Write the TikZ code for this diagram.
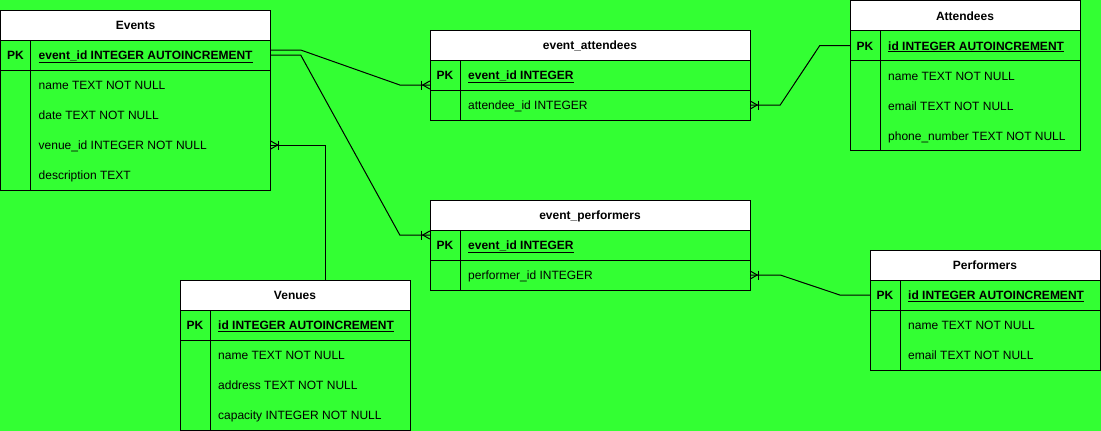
\documentclass[tikz,border=0pt]{standalone}
\usepackage{fontspec}
\setmainfont{Liberation Sans}
\usetikzlibrary{calc}
\definecolor{bg}{HTML}{33FF33}
\tikzset{
  ln/.style={draw=black, line width=1pt},
  conn/.style={draw=black, line width=1pt},
  hdr/.style={inner sep=0pt, anchor=base, font=\fontsize{12}{14}\selectfont\bfseries},
  pklab/.style={inner sep=0pt, anchor=base, font=\fontsize{12}{14}\selectfont\bfseries},
  pktxt/.style={inner sep=0pt, anchor=base west, font=\fontsize{12}{14}\selectfont\bfseries},
  fld/.style={inner sep=0pt, anchor=base west, font=\fontsize{12}{14}\selectfont},
  rowbox/.style={inner sep=0pt, minimum height=30pt}
}
% #1 id, #2 x, #3 y(top), #4 width, #5 title, #6 pk text, #7 number of fields, #8 fields
\newcommand{\ertable}[8]{%
  \fill[white] (#2,#3) rectangle ++(#4,30);
  \draw[ln] (#2,#3) rectangle ++(#4,60+30*#7);
  \draw[ln] (#2,#3+30) -- ++(#4,0);
  \draw[ln] (#2,#3+60) -- ++(#4,0);
  \draw[ln] (#2+30,#3+30) -- ++(0,30+30*#7);
  \coordinate (#1-top) at (#2+#4/2,#3);
  \node[hdr] (#1) at (#2+#4/2,#3+19.5) {#5};
  \node[rowbox, minimum width=#4pt] (#1-r0) at (#2+#4/2,#3+45) {};
  \node[pklab] (#1-pk) at (#2+15,#3+49.5) {PK};
  \node[pktxt] (#1-key) at (#2+38,#3+49.5) {\underline{#6}};
  \foreach \f [count=\i] in {#8} {
    \node[rowbox, minimum width=#4pt] (#1-r\i) at (#2+#4/2,#3+45+30*\i) {};
    \node[fld] (#1-t\i) at (#2+38,#3+49.5+30*\i) {\f};
  }
}
% #1 coordinate, #2 direction (+1 line leaves to the right, -1 to the left)
\newcommand{\crowfoot}[2]{%
  \draw[conn] ($(#1)+(0,-4)$) -- ($(#1)+(#2*7,0)$) -- ($(#1)+(0,4)$);
  \draw[conn] ($(#1)+(#2*8,-4.5)$) -- ($(#1)+(#2*8,4.5)$);
}
\begin{document}
\begin{tikzpicture}[x=1pt,y=-1pt]
  \useasboundingbox (0,0) rectangle (1101,431);
  \fill[bg] (0,0) rectangle (1101,431);

  \ertable{ev}{0.5}{10}{270}{Events}{event\_id INTEGER AUTOINCREMENT}{4}{name TEXT NOT NULL,date TEXT NOT NULL,venue\_id INTEGER NOT NULL,description TEXT}
  \ertable{ea}{430}{30}{320}{event\_attendees}{event\_id INTEGER}{1}{attendee\_id INTEGER}
  \ertable{at}{850}{0.5}{230}{Attendees}{id INTEGER AUTOINCREMENT}{3}{name TEXT NOT NULL,email TEXT NOT NULL,phone\_number TEXT NOT NULL}
  \ertable{ep}{430}{200}{320}{event\_performers}{event\_id INTEGER}{1}{performer\_id INTEGER}
  \ertable{pf}{870}{250}{230}{Performers}{id INTEGER AUTOINCREMENT}{2}{name TEXT NOT NULL,email TEXT NOT NULL}
  \ertable{ve}{180}{280}{230}{Venues}{id INTEGER AUTOINCREMENT}{3}{name TEXT NOT NULL,address TEXT NOT NULL,capacity INTEGER NOT NULL}

  % Events -> event_attendees
  \coordinate (e1) at ($(ea-r0.west)+(0,10)$);
  \draw[conn] ($(ev-r0.east)+(0,-5)$) -- ++(30,0) -- ($(e1)+(-30,0)$) -- (e1);
  \crowfoot{e1}{-1}
  % Events -> event_performers
  \coordinate (e2) at ($(ep-r0.west)+(0,-10)$);
  \draw[conn] (ev-r0.east) -- ++(30,0) -- ($(e2)+(-30,0)$) -- (e2);
  \crowfoot{e2}{-1}
  % Attendees -> event_attendees
  \draw[conn] (at-r0.west) -- ++(-30,0) -- ($(ea-r1.east)+(30,0)$) -- (ea-r1.east);
  \crowfoot{ea-r1.east}{1}
  % Venues -> Events
  \draw[conn] ($(ve-top)+(30,0)$) |- (ev-r3.east);
  \crowfoot{ev-r3.east}{1}
  % Performers -> event_performers
  \draw[conn] (pf-r0.west) -- ++(-30,0) -- ($(ep-r1.east)+(30,0)$) -- (ep-r1.east);
  \crowfoot{ep-r1.east}{1}
\end{tikzpicture}
\end{document}
